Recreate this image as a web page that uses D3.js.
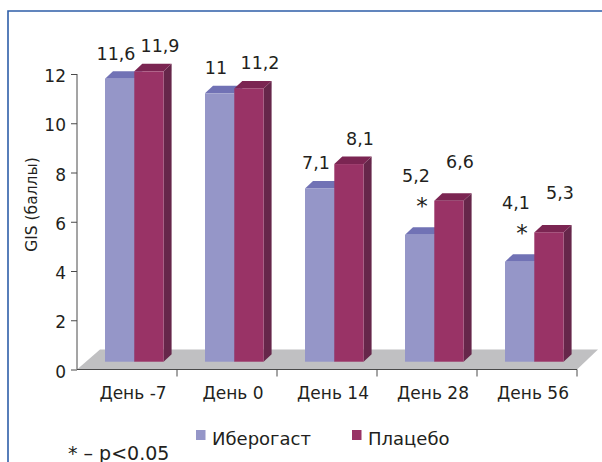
<!DOCTYPE html>
<html><head><meta charset="utf-8">
<script src="https://cdn.jsdelivr.net/npm/d3@7"></script>
<style>
html,body{margin:0;padding:0;background:#fff;}
svg{display:block;font-family:"DejaVu Sans",sans-serif;}
</style></head>
<body>
<svg id="c" width="602" height="462"></svg>
<script>
const categories = ["День -7", "День 0", "День 14", "День 28", "День 56"];
const seriesNames = ["Иберогаст", "Плацебо"];
const iberogast = [11.6, 11.0, 7.1, 5.2, 4.1];
const placebo = [11.9, 11.2, 8.1, 6.6, 5.3];
const iberogastLabels = ["11,6", "11", "7,1", "5,2", "4,1"];
const placeboLabels = ["11,9", "11,2", "8,1", "6,6", "5,3"];
const significant = [false, false, false, true, true];
const yTicks = [0, 2, 4, 6, 8, 10, 12];
const yTitle = "GIS (баллы)";
const footnote = "* – p<0.05";

const svg = d3.select("#c");
const ink = "#231f20";

// frame
svg.append("path").attr("d", "M8,470 L8,11 L610,11").attr("fill", "none")
  .attr("stroke", "#2e5ea8").attr("stroke-width", 1.6);

const x = d3.scaleBand().domain(categories).range([77, 577]);
const y = d3.scaleLinear().domain([0, 12]).range([369.5, 74]);
const yb = d3.scaleLinear().domain([0, 12]).range([361.7, 68.9]);
const dX = 8, dY = -7.5;

// floor
const fl = [[x.range()[0], y(0)], [x.range()[1], y(0)], [x.range()[1] + 21, y(0) - 20], [x.range()[0] + 23, y(0) - 20]];
svg.append("polygon").attr("points", fl.map(p => p.join(",")).join(" ")).attr("fill", "#c0c0c2");

const colors = [
  {front: "#9596c8", top: "#7172b5", side: "#6a6aa8"},
  {front: "#993366", top: "#7b2552", side: "#66264a"}
];
const bw = 29.3;
const offs = [28, 28 + bw];
const data = categories.map((c, i) => ({c, vals: [iberogast[i], placebo[i]], i}));

const gBars = svg.append("g");
data.forEach(d => {
  d.vals.forEach((v, s) => {
    const x0 = x(d.c) + offs[s], x1 = x0 + bw;
    const yt = yb(v), ybot = yb(0);
    const col = colors[s];
    gBars.append("polygon").attr("fill", col.side)
      .attr("points", [[x1, ybot], [x1 + dX, ybot + dY], [x1 + dX, yt + dY], [x1, yt]].map(p => p.join(",")).join(" "));
    gBars.append("polygon").attr("fill", col.top)
      .attr("points", [[x0, yt], [x0 + dX, yt + dY], [x1 + dX, yt + dY], [x1, yt]].map(p => p.join(",")).join(" "));
    gBars.append("rect").attr("fill", col.front)
      .attr("x", x0).attr("y", yt).attr("width", bw).attr("height", ybot - yt);
  });
});

// axes
const axCol = "#4a4a4a";
const yAxis = svg.append("g").attr("transform", `translate(${x.range()[0]},0)`)
  .call(d3.axisLeft(y).tickValues(yTicks).tickSize(6).tickPadding(5).tickFormat(d3.format("d")));
yAxis.select(".domain").attr("stroke", axCol).attr("d", `M-0,${y(12)}V${y(0)}`);
yAxis.selectAll(".tick line").attr("stroke", axCol);
yAxis.selectAll(".tick text").attr("fill", ink).attr("font-size", 17).attr("font-family", "DejaVu Sans").attr("dy", "0.45em");

const xAxis = svg.append("g").attr("transform", `translate(0,${y(0)})`);
xAxis.append("line").attr("x1", x.range()[0]).attr("x2", x.range()[1]).attr("stroke", axCol);
const bounds = categories.map(c => x(c) + x.bandwidth());
xAxis.selectAll("line.t").data(bounds).join("line").attr("class", "t")
  .attr("x1", d => d).attr("x2", d => d).attr("y1", 0).attr("y2", 7).attr("stroke", axCol);
xAxis.selectAll("text").data(categories).join("text")
  .attr("x", d => x(d) + x.bandwidth() / 2 + 6).attr("y", 29.5)
  .attr("text-anchor", "middle").attr("font-size", 17).attr("fill", ink).text(d => d);

// y title
svg.append("text").attr("transform", `translate(36.5,204.5) rotate(-90)`)
  .attr("text-anchor", "middle").attr("font-size", 15.5).attr("fill", ink).text(yTitle);

// data labels
data.forEach(d => {
  const sig = significant[d.i];
  const b = x(d.c);
  svg.append("text").attr("x", b + 39).attr("y", yb(d.vals[0]) - (sig ? 53 : 19))
    .attr("text-anchor", "middle").attr("font-size", 17.5).attr("fill", ink).text(iberogastLabels[d.i]);
  svg.append("text").attr("x", b + 83).attr("y", yb(d.vals[1]) - (sig ? 33 : 19))
    .attr("text-anchor", "middle").attr("font-size", 17.5).attr("fill", ink).text(placeboLabels[d.i]);
  if (sig) {
    svg.append("text").attr("x", b + 45).attr("y", yb(d.vals[0]) - 33 + 12.5)
      .attr("text-anchor", "middle").attr("font-size", 23).attr("fill", ink).text("*");
  }
});

// legend
const leg = svg.append("g");
const legX = [196, 352];
seriesNames.forEach((n, s) => {
  leg.append("rect").attr("x", legX[s]).attr("y", 430).attr("width", 9.5).attr("height", 10).attr("fill", colors[s].front);
  leg.append("text").attr("x", legX[s] + 16).attr("y", 445).attr("font-size", 18).attr("fill", ink).text(n);
});

svg.append("text").attr("x", 68).attr("y", 459.5).attr("font-size", 19).attr("fill", ink).text(footnote);
</script>
</body></html>
